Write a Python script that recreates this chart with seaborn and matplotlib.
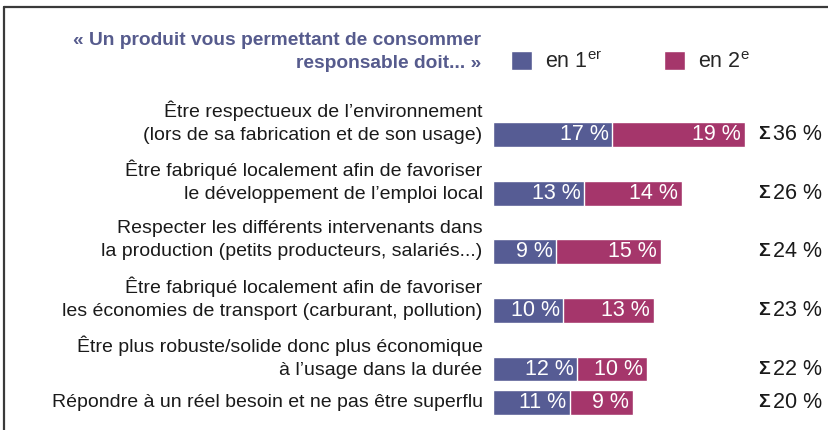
import matplotlib
matplotlib.use("Agg")
import matplotlib.pyplot as plt
from matplotlib.lines import Line2D
import seaborn as sns
import pandas as pd

# data
items = [
    "Être respectueux de l’environnement\n(lors de sa fabrication et de son usage)",
    "Être fabriqué localement afin de favoriser\nle développement de l’emploi local",
    "Respecter les différents intervenants dans\nla production (petits producteurs, salariés...)",
    "Être fabriqué localement afin de favoriser\nles économies de transport (carburant, pollution)",
    "Être plus robuste/solide donc plus économique\nà l’usage dans la durée",
    "Répondre à un réel besoin et ne pas être superflu",
]
first = [17, 13, 9, 10, 12, 11]
second = [19, 14, 15, 13, 10, 9]
totals = [36, 26, 24, 23, 22, 20]

# layout: vertical slot of each row (last row sits closer)
row_pos = [0, 1, 2, 3, 4, 4.57]

BLUE = "#565c94"
MAGENTA = "#a5366b"
TITLE = "#565b8d"
FONT = ["Liberation Sans", "DejaVu Sans"]

sns.set_theme(style="white")
plt.rcParams["font.family"] = FONT
plt.rcParams["mathtext.fontset"] = "custom"
plt.rcParams["mathtext.rm"] = "Liberation Sans"

df = pd.DataFrame({"item": items, "pos": row_pos, "first": first, "second": second})
df["stack"] = df["first"] + df["second"]

fig = plt.figure(figsize=(8.29, 4.30), dpi=100)
ax = fig.add_axes([493 / 829, 0, 336 / 829, 1])

sns.barplot(data=df, x="stack", y="pos", orient="y", native_scale=True,
            color=MAGENTA, saturation=1, width=0.74, errorbar=None,
            label="en 2$^{\\mathrm{e}}$", ax=ax)
sns.barplot(data=df, x="first", y="pos", orient="y", native_scale=True,
            color=BLUE, saturation=1, width=0.74, errorbar=None,
            label="en 1$^{\\mathrm{er}}$", ax=ax)

handles, labels = ax.get_legend_handles_labels()
if ax.get_legend() is not None:
    ax.get_legend().remove()

ax.set_xlim(0, 48)
ax.set_ylim(5.04, -2.295)
ax.set_axis_off()

for lab, p, a, b, t in zip(items, row_pos, first, second, totals):
    nlines = lab.count("\n") + 1
    ax.annotate(lab, xy=(0, p), xycoords=("axes fraction", "data"),
                xytext=(-7.5, 8.6 * (nlines - 1)), textcoords="offset points",
                ha="right", va="center", multialignment="right",
                fontsize=14, color="#1a1a1a", linespacing=1.45)
    ax.annotate(f"{a} %", xy=(a, p), xytext=(-2.5, 0), textcoords="offset points",
                ha="right", va="center", color="white", fontsize=15.5)
    ax.annotate(f"{b} %", xy=(a + b, p), xytext=(-3, 0), textcoords="offset points",
                ha="right", va="center", color="white", fontsize=15.5)
    ax.text(37.85, p, "Σ", ha="left", va="center", fontsize=14,
            fontweight="bold", color="#1a1a1a")
    ax.text(40.0, p, f"{t} %", ha="left", va="center", fontsize=15.5, color="#1a1a1a")

fig.text(481 / 829, 1 - 52 / 430,
         "« Un produit vous permettant de consommer\nresponsable doit... »",
         ha="right", va="center", multialignment="right", fontsize=13.8,
         fontweight="bold", color=TITLE, linespacing=1.5)

fig.legend(handles[::-1], labels[::-1], loc="center left",
           bbox_to_anchor=(492 / 829, 1 - 62 / 430), ncol=2, frameon=False,
           fontsize=15.5, handlelength=0.95, handleheight=0.95,
           handletextpad=0.6, columnspacing=2.9)

# frame cut at right and bottom
fig.add_artist(Line2D([4.5 / 829, 4.5 / 829], [0, 1 - 6.5 / 430],
                      transform=fig.transFigure, color="#3a3a3a", lw=1.6))
fig.add_artist(Line2D([4.5 / 829, 1], [1 - 6.5 / 430, 1 - 6.5 / 430],
                      transform=fig.transFigure, color="#3a3a3a", lw=1.6))

fig.savefig("out.png", dpi=100)
